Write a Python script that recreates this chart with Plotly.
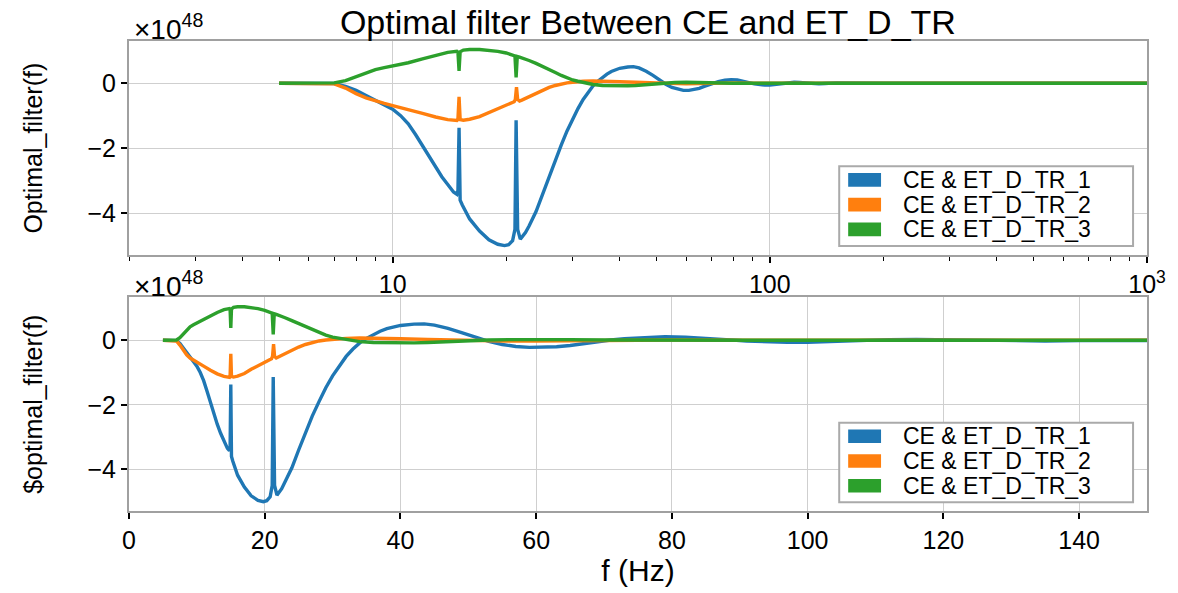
import plotly.graph_objects as go

# ---------------- data (values in units of 1e48) ----------------
names = ["CE & ET_D_TR_1", "CE & ET_D_TR_2", "CE & ET_D_TR_3"]
colors = ["#1f77b4", "#ff7f0e", "#2ca02c"]

f_blue = [5, 6, 7, 7.5, 8, 8.5, 9, 9.5, 10, 10.5, 11, 11.5, 12, 12.5, 13, 13.5, 14, 14.5,
          14.8, 14.9, 15.0, 15.1, 15.3, 16, 17, 18, 19, 19.8, 20.3, 20.8, 21.1, 21.25, 21.45,
          21.8, 22.5, 23, 24, 25, 26, 27, 28, 29, 30, 31, 32, 33, 34, 35, 36, 37, 38, 39, 40,
          42, 43.5, 45, 47, 49, 51, 53, 55, 57, 59, 61, 63, 65, 67, 69, 71, 73, 76, 79, 82,
          85, 88, 91, 94, 97, 100, 104, 108, 112, 116, 120, 125, 130, 135, 140, 145, 150,
          200, 300, 500, 1000]
v_blue = [0, 0, -0.01, -0.1, -0.22, -0.38, -0.52, -0.65, -0.8, -1.0, -1.25, -1.58, -1.93,
          -2.28, -2.6, -2.88, -3.12, -3.35, -3.42, -3.3, -1.37, -3.6, -3.75, -4.18, -4.55,
          -4.82, -4.96, -5.0, -4.97, -4.85, -4.5, -1.14, -4.5, -4.8, -4.6, -4.4, -3.95, -3.4,
          -2.85, -2.35, -1.9, -1.47, -1.1, -0.78, -0.5, -0.27, -0.08, 0.06, 0.18, 0.28, 0.36,
          0.42, 0.46, 0.5, 0.51, 0.47, 0.37, 0.24, 0.1, -0.03, -0.13, -0.19, -0.22, -0.22,
          -0.2, -0.16, -0.1, -0.04, 0.01, 0.05, 0.09, 0.11, 0.1, 0.07, 0.02, -0.02, -0.05,
          -0.06, -0.06, -0.03, 0.0, 0.02, 0.03, 0.02, 0.0, -0.02, -0.02, -0.01, 0.0, 0.01,
          0.0, 0.0, 0.0, 0.0]

f_orange = [5, 6, 7, 7.5, 8, 8.5, 9, 9.5, 10, 10.5, 11, 12, 13, 14, 14.8, 14.9, 15.0, 15.1,
            15.4, 16, 17, 18, 19, 20, 21, 21.15, 21.3, 21.45, 21.7, 22, 23, 24, 25, 26, 27,
            28, 29, 30, 31, 32, 34, 36, 38, 40, 44, 48, 51, 55, 60, 65, 70, 80, 90, 100,
            150, 1000]
v_orange = [0, 0, -0.02, -0.15, -0.32, -0.45, -0.55, -0.62, -0.69, -0.75, -0.8, -0.93,
            -1.04, -1.12, -1.15, -1.1, -0.42, -1.12, -1.14, -1.11, -1.03, -0.9, -0.78,
            -0.67, -0.57, -0.5, -0.12, -0.5, -0.55, -0.52, -0.42, -0.3, -0.21, -0.13, -0.07,
            -0.02, 0.01, 0.03, 0.05, 0.06, 0.07, 0.07, 0.06, 0.05, 0.03, 0.01, 0.0, -0.02,
            -0.02, -0.01, 0.0, 0.01, 0.0, 0.0, 0.0, 0.0]

f_green = [5, 6, 7, 7.5, 8, 8.5, 9, 9.5, 10, 10.5, 11, 12, 13, 14, 14.8, 14.9, 15.0, 15.1,
           15.4, 16, 17, 18, 19, 20, 20.8, 21.1, 21.25, 21.4, 21.7, 22, 23, 24, 25, 26, 27,
           28, 29, 30, 31, 32, 33, 34, 36, 38, 40, 42, 44, 47, 50, 53, 56, 60, 65, 70, 80,
           100, 150, 1000]
v_green = [0, 0, 0.01, 0.08, 0.2, 0.32, 0.42, 0.48, 0.53, 0.58, 0.63, 0.75, 0.86, 0.95,
           0.98, 0.95, 0.38, 0.97, 1.02, 1.04, 1.04, 1.02, 0.98, 0.93, 0.87, 0.84, 0.18,
           0.82, 0.8, 0.78, 0.7, 0.61, 0.52, 0.42, 0.33, 0.24, 0.16, 0.1, 0.06, 0.02, -0.01,
           -0.04, -0.07, -0.08, -0.08, -0.08, -0.07, -0.04, -0.01, 0.01, 0.02, 0.03, 0.02,
           0.01, 0.0, 0.0, 0.0, 0.0]

series = [(f_blue, v_blue), (f_orange, v_orange), (f_green, v_green)]

top_major = [10, 100, 1000]
top_major_text = ["10", "100", "10<sup>3</sup>"]
top_minor = [2, 3, 4, 5, 6, 7, 8, 9, 20, 30, 40, 50, 60, 70, 80, 90,
             200, 300, 400, 500, 600, 700, 800, 900]
bottom_ticks = [0, 20, 40, 60, 80, 100, 120, 140]
y_ticks = [0, -2, -4]

FONT = "Liberation Sans"
GRID = "#cfcfcf"
FRAME = "#a0a0a0"

# figure geometry (pixels)
W, H = 1178, 593
ML, MR, MT, MB = 129, 27, 41, 68
PW, PH = W - ML - MR, H - MT - MB


def px_x(p):
    return (p - ML) / PW


def px_y(p):
    return (H - MB - p) / PH


fig = go.Figure()
for (fx, fy), name, col in zip(series, names, colors):
    fig.add_trace(go.Scatter(x=fx, y=fy, mode="lines", line=dict(color=col, width=3.4),
                             xaxis="x", yaxis="y", showlegend=False, name=name))
    fig.add_trace(go.Scatter(x=fx, y=fy, mode="lines", line=dict(color=col, width=3.4),
                             xaxis="x2", yaxis="y2", showlegend=False, name=name))

axis_common = dict(showline=True, mirror=True, linecolor=FRAME, linewidth=2,
                   showgrid=True, gridcolor=GRID, gridwidth=1.3, zeroline=False,
                   ticks="outside", tickcolor="black", tickwidth=1.5, ticklen=6,
                   tickfont=dict(family=FONT, size=25, color="black"))

fig.update_layout(
    width=W, height=H,
    margin=dict(l=ML, r=MR, t=MT, b=MB),
    plot_bgcolor="white", paper_bgcolor="white",
    font=dict(family=FONT, color="black"),
    showlegend=False,
    title=dict(text="Optimal filter Between CE and ET_D_TR", x=0.55, xanchor="center",
               y=0.962, yanchor="middle", font=dict(family=FONT, size=34, color="black")),
    xaxis=dict(type="log", range=[0.30103, 3], domain=[0, 1], anchor="y",
               tickmode="array", tickvals=top_major, ticktext=top_major_text,
               minor=dict(tickmode="array", tickvals=top_minor, ticks="outside",
                          ticklen=4, tickcolor="black", tickwidth=1.2, showgrid=False),
               **axis_common),
    yaxis=dict(range=[-5.30, 1.30], domain=[0.544, 1], anchor="x",
               tickmode="array", tickvals=y_ticks,
               title=dict(text="Optimal_filter(f)", standoff=38,
                          font=dict(family=FONT, size=25, color="black")),
               **axis_common),
    xaxis2=dict(range=[0, 150], domain=[0, 1], anchor="y2",
                tickmode="array", tickvals=bottom_ticks,
                title=dict(text="f (Hz)", standoff=6,
                           font=dict(family=FONT, size=30, color="black")),
                **axis_common),
    yaxis2=dict(range=[-5.29, 1.33], domain=[0, 0.4545], anchor="x2",
                tickmode="array", tickvals=y_ticks,
                title=dict(text="$optimal_filter(f)", standoff=38,
                           font=dict(family=FONT, size=25, color="black")),
                **axis_common),
)

# offset texts
for ypix in (27, 291):
    fig.add_annotation(text="×10<sup>48</sup>", xref="paper", yref="paper",
                       x=px_x(132), xanchor="left", y=px_y(ypix), yanchor="middle",
                       showarrow=False, font=dict(family=FONT, size=28, color="black"))

# legends (one per panel)
for box_top in (170, 434):
    fig.add_shape(type="rect", xref="paper", yref="paper",
                  x0=px_x(842), x1=px_x(1137), y0=px_y(box_top), y1=px_y(box_top + 82),
                  line=dict(color="#aaaaaa", width=2), fillcolor="white", layer="above")
    for i, (name, col) in enumerate(zip(names, colors)):
        cy = box_top + 14 + i * 25.5
        fig.add_shape(type="rect", xref="paper", yref="paper",
                      x0=px_x(851), x1=px_x(884), y0=px_y(cy - 7), y1=px_y(cy + 7),
                      line=dict(width=0), fillcolor=col, layer="above")
        fig.add_annotation(text=name, xref="paper", yref="paper",
                           x=px_x(904), xanchor="left", y=px_y(cy), yanchor="middle",
                           showarrow=False,
                           font=dict(family=FONT, size=23, color="black"))

fig.write_html("out.html")
